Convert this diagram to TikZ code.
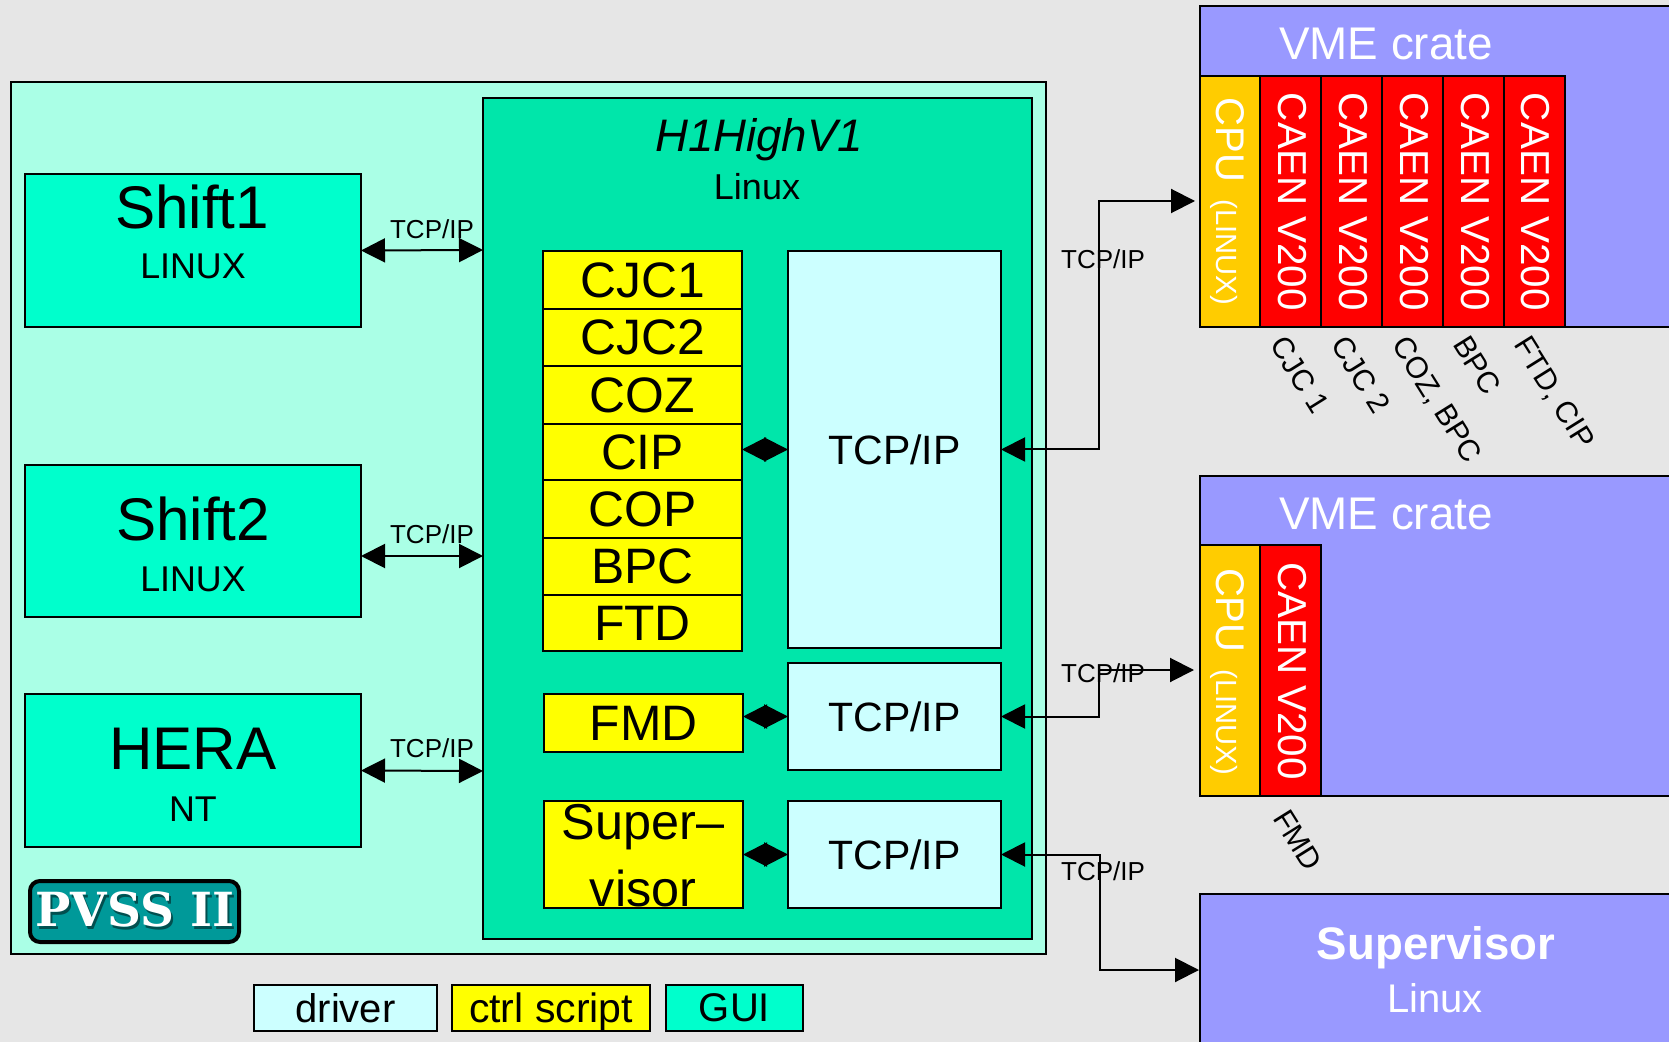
\documentclass[tikz,border=0pt]{standalone}
\usepackage{fontspec}
\setmainfont{Liberation Sans}
\newfontfamily\logofont{DejaVu Serif}[BoldFont={DejaVu Serif Bold}]
\usetikzlibrary{arrows.meta}
\definecolor{bgc}{HTML}{E6E6E6}
\definecolor{outerc}{HTML}{AAFFE6}
\definecolor{hostc}{HTML}{00E6AA}
\definecolor{guic}{HTML}{00FFCC}
\definecolor{drvc}{HTML}{CCFFFF}
\definecolor{ctrlc}{HTML}{FFFF00}
\definecolor{vmec}{HTML}{9999FF}
\definecolor{cpuc}{HTML}{FFCC00}
\definecolor{caenc}{HTML}{FF0000}
\definecolor{logoc}{HTML}{009999}
\definecolor{logos}{HTML}{024F4F}
\tikzset{
  fs/.style={font=\fontsize{#1}{#1}\selectfont},
  bx/.style={draw=black,line width=1pt,inner sep=0pt,outer sep=0pt,rectangle},
  txt/.style={inner sep=0pt,outer sep=0pt,text=black},
  wtxt/.style={inner sep=0pt,outer sep=0pt,text=white},
  dbl/.style={line width=1pt,draw=black,{Triangle[length=12pt,width=12pt]}-{Triangle[length=12pt,width=12pt]}},
  rot/.style={rotate=-90,anchor=base west,inner sep=0pt,outer sep=0pt,text=white},
  lab/.style={rotate=-58,anchor=base west,inner sep=0pt,outer sep=0pt,text=black,fs=15},
  net/.style={txt,fs=13},
}
% box from corner to corner: options, name, x1, y1, x2, y2, text
\newcommand\bxn[7]{%
  \pgfmathsetmacro\cxx{(#3+#5)/2}%
  \pgfmathsetmacro\cyy{(#4+#6)/2}%
  \pgfmathsetmacro\www{(#5-#3)*0.5}%
  \pgfmathsetmacro\hhh{(#6-#4)*0.5}%
  \node[bx,#1,minimum width=\www pt,minimum height=\hhh pt] (#2) at (\cxx,\cyy) {#7};}
\begin{document}
\begin{tikzpicture}[x=0.5pt,y=-0.5pt]
\useasboundingbox (0,0) rectangle (1669,1042);
\clip (0,0) rectangle (1669,1042);
\fill[bgc] (0,0) rectangle (1669,1042);

% PVSS frame and host
\bxn{fill=outerc}{pvss}{11}{82}{1046}{954}{}
\bxn{fill=hostc}{host}{483}{98}{1032}{939}{}
\node[txt,fs=22.8] (hostname) at (759,140) {\itshape H1HighV1};
\node[txt,fs=18] (hostos) at (757,187) {Linux};

% GUI machines
\bxn{fill=guic}{shift1}{25}{174}{361}{327}{}
\bxn{fill=guic}{shift2}{25}{465}{361}{617}{}
\bxn{fill=guic}{hera}{25}{694}{361}{847}{}
\node[txt,fs=30.1] (shift1t) at (192,207) {Shift1};
\node[txt,fs=17.9] (shift1o) at (193,266) {LINUX};
\node[txt,fs=30.1] (shift2t) at (193,519) {Shift2};
\node[txt,fs=17.9] (shift2o) at (193,579) {LINUX};
\node[txt,fs=30.1] (herat) at (193,749) {HERA};
\node[txt,fs=17.9] (herao) at (193,809) {NT};

% logo
\bxn{line width=2pt,fill=logoc,rounded corners=5pt}{logo}{30}{881}{239}{942}{}
\node[inner sep=0pt,text=white] (logot) at (135,911) {\logofont\bfseries\fontsize{23.5}{23.5}\selectfont\rlap{\raisebox{-1.6pt}{\kern1pt\textcolor{logos}{PVSS II}}}PVSS II};

% control scripts
\bxn{fill=ctrlc,fs=24.9}{cjca}{543}{251}{742}{309}{CJC1}
\bxn{fill=ctrlc,fs=24.9}{cjcb}{543}{309}{742}{366}{CJC2}
\bxn{fill=ctrlc,fs=24.9}{coz}{543}{366}{742}{424}{COZ}
\bxn{fill=ctrlc,fs=24.9}{cip}{543}{424}{742}{480}{CIP}
\bxn{fill=ctrlc,fs=24.9}{cop}{543}{480}{742}{538}{COP}
\bxn{fill=ctrlc,fs=24.9}{bpc}{543}{538}{742}{595}{BPC}
\bxn{fill=ctrlc,fs=24.9}{ftd}{543}{595}{742}{651}{FTD}
\bxn{fill=ctrlc,fs=24.9}{fmd}{544}{694}{743}{752}{FMD}
\bxn{fill=ctrlc}{sup}{544}{801}{743}{908}{}
\node[txt,fs=25.2] (supa) at (643,827) {Super–};
\node[txt,fs=25.2] (supb) at (643,888) {visor};

% drivers
\bxn{fill=drvc,fs=20.5}{tcpa}{788}{251}{1001}{648}{TCP/IP}
\bxn{fill=drvc,fs=20.5}{tcpb}{788}{663}{1001}{770}{TCP/IP}
\bxn{fill=drvc,fs=20.5}{tcpc}{788}{801}{1001}{908}{TCP/IP}

% legend
\bxn{fill=drvc,fs=20}{legd}{254}{985}{437}{1031}{driver}
\bxn{fill=ctrlc,fs=20.5,text depth=0pt}{legc}{452}{985}{650}{1031}{ctrl script}
\bxn{fill=guic,fs=20}{legg}{666}{985}{803}{1031}{GUI}

% VME crate 1
\bxn{fill=vmec}{vmea}{1200}{6}{1680}{327}{}
\node[wtxt,fs=22.9] (vmeat) at (1386,44) {VME crate};
\bxn{fill=cpuc}{cpua}{1200}{76}{1260}{327}{}
\bxn{fill=caenc}{ca1}{1260}{76}{1321}{327}{}
\bxn{fill=caenc}{ca2}{1321}{76}{1382}{327}{}
\bxn{fill=caenc}{ca3}{1382}{76}{1443}{327}{}
\bxn{fill=caenc}{ca4}{1443}{76}{1504}{327}{}
\bxn{fill=caenc}{ca5}{1504}{76}{1565}{327}{}
\node[rot,fs=20] (cpuat) at (1216,98) {CPU\hspace{8.5pt}\fontsize{14.6}{14.6}\selectfont(LINUX)};
\node[rot,fs=20.2] (ca1t) at (1278,93) {CAEN V200};
\node[rot,fs=20.2] (ca2t) at (1339,93) {CAEN V200};
\node[rot,fs=20.2] (ca3t) at (1400,93) {CAEN V200};
\node[rot,fs=20.2] (ca4t) at (1461,93) {CAEN V200};
\node[rot,fs=20.2] (ca5t) at (1521,93) {CAEN V200};
\node[lab] (la1) at (1269,345) {CJC 1};
\node[lab] (la2) at (1330,345) {CJC 2};
\node[lab] (la3) at (1391,345) {COZ, BPC};
\node[lab] (la4) at (1452,345) {BPC};
\node[lab] (la5) at (1513,345) {FTD, CIP};

% VME crate 2
\bxn{fill=vmec}{vmeb}{1200}{476}{1680}{796}{}
\node[wtxt,fs=22.9] (vmebt) at (1386,514) {VME crate};
\bxn{fill=cpuc}{cpub}{1200}{545}{1260}{796}{}
\bxn{fill=caenc}{cb1}{1260}{545}{1321}{796}{}
\node[rot,fs=20] (cpubt) at (1216,568) {CPU\hspace{8.5pt}\fontsize{14.6}{14.6}\selectfont(LINUX)};
\node[rot,fs=20.2] (cb1t) at (1278,562) {CAEN V200};
\node[lab] (lb1) at (1272,818) {FMD};

% Supervisor machine
\bxn{fill=vmec}{supm}{1200}{894}{1680}{1060}{}
\node[wtxt,fs=22.8] (supmt) at (1436,948) {\bfseries Supervisor};
\node[wtxt,fs=20] (supmo) at (1435,998) {Linux};

% connector ends
\coordinate (hs1) at (483,250);
\coordinate (gs2) at (361,556);
\coordinate (hs2) at (483,556);
\coordinate (hs3) at (483,771);
\coordinate (ina) at (1195,201);
\coordinate (inb) at (1194,670);
\coordinate (inc) at (1199,970);
\coordinate (benda) at (1099,0);
\coordinate (bendc) at (1100,0);

% connectors
\draw[dbl] (shift1.east) -- (hs1);
\draw[dbl] (gs2) -- (hs2);
\draw[dbl] (hera.east) -- (hs3);
\draw[dbl] (cip.east |- tcpa.west) -- (tcpa.west);
\draw[dbl] (fmd.east |- tcpb.west) -- (tcpb.west);
\draw[dbl] (sup.east) -- (tcpc.west);
\draw[dbl] (tcpa.east) -- (benda |- tcpa.east) -- (benda |- ina) -- (ina);
\draw[dbl] (tcpb.east) -- (benda |- tcpb.east) -- (benda |- inb) -- (inb);
\draw[dbl] (tcpc.east) -- (bendc |- tcpc.east) -- (bendc |- inc) -- (inc);

% connector labels
\node[net] (n1) at (432,229) {TCP/IP};
\node[net] (n2) at (432,534) {TCP/IP};
\node[net] (n3) at (432,748) {TCP/IP};
\node[net] (n4) at (1103,259) {TCP/IP};
\node[net] (n5) at (1103,673) {TCP/IP};
\node[net] (n6) at (1103,871) {TCP/IP};
\end{tikzpicture}
\end{document}
